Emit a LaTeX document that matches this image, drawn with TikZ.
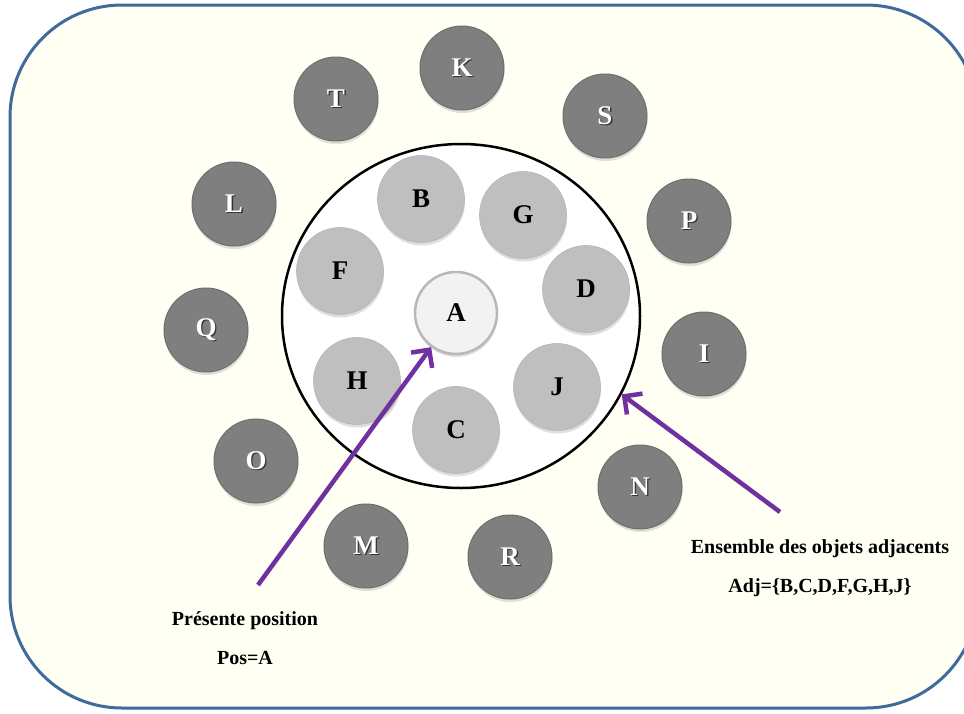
\documentclass[tikz,border=0pt]{standalone}
\usepackage{fontspec}
\setmainfont{Liberation Serif}
\usetikzlibrary{shapes.geometric,arrows.meta,shadows}
\definecolor{frameblue}{HTML}{3F6A9C}
\definecolor{cream}{HTML}{FFFFF4}
\definecolor{darkfill}{HTML}{7F7F7F}
\definecolor{darkedge}{HTML}{6E6E6E}
\definecolor{lightfill}{HTML}{BFBFBF}
\definecolor{afill}{HTML}{F2F2F2}
\definecolor{purp}{HTML}{7030A0}
\newcommand\shadowed[1]{\makebox[0pt][l]{\hspace{1.3pt}\raisebox{-1.3pt}{\textcolor{black!80}{#1}}}#1}
\tikzset{
  ball/.style={circle, inner sep=0pt, font=\fontsize{27}{27}\selectfont\bfseries,
    drop shadow={shadow xshift=0.5pt, shadow yshift=-3pt, opacity=0.25}},
  darkball/.style={ball, minimum size=84pt, fill=darkfill, draw=darkedge, line width=1pt, text=white},
  lightball/.style={ball, minimum size=87pt, fill=lightfill, draw=lightfill!95!black, line width=0.6pt, text=black},
  aball/.style={ball, minimum size=82pt, fill=afill, draw=black!28, line width=2.5pt, text=black},
  ring/.style={ellipse, minimum width=358pt, minimum height=344pt, inner sep=0pt, draw=black, line width=2.5pt, fill=white},
  pointer/.style={draw=purp, line width=4.5pt, -{Straight Barb[length=13pt, width=26pt, line width=4.5pt]}},
  caption/.style={font=\fontsize{20}{20}\selectfont\bfseries, text=black, align=center}
}
\begin{document}
\begin{tikzpicture}[x=1pt, y=-1pt]
\useasboundingbox (0,0) rectangle (964,713);
\clip (0,0) rectangle (964,713);
\fill[white] (0,0) rectangle (964,713);
\draw[frameblue, fill=cream, line width=3pt, rounded corners=112pt] (10,5) rectangle (978,708);

\node[ring] (ring) at (461,316) {};

% outer objects
\node[darkball] (K) at (462,68) {\shadowed{K}};
\node[darkball] (T) at (336,99) {\shadowed{T}};
\node[darkball] (S) at (605,116) {\shadowed{S}};
\node[darkball] (L) at (234,204) {\shadowed{L}};
\node[darkball] (P) at (689,221) {\shadowed{P}};
\node[darkball] (Q) at (206,330) {\shadowed{Q}};
\node[darkball] (I) at (704,354) {\shadowed{I}};
\node[darkball] (O) at (256,461) {\shadowed{O}};
\node[darkball] (N) at (640,487) {\shadowed{N}};
\node[darkball] (M) at (366,546) {\shadowed{M}};
\node[darkball] (R) at (510,557) {\shadowed{R}};

% adjacent objects
\node[lightball] (B) at (421,199) {B};
\node[lightball] (G) at (523,215) {G};
\node[lightball] (F) at (340,271) {F};
\node[lightball] (D) at (586,289) {D};
\node[lightball] (H) at (357,381) {H};
\node[lightball] (J) at (557,387) {J};
\node[lightball] (C) at (456,430) {C};
\node[aball] (A) at (456,313) {A};

% captions
\node[caption] (cap1) at (245,621) {Présente position};
\node[caption] (cap2) at (245,658) {Pos=A};
\node[caption] (cap3) at (820,549) {Ensemble des objets adjacents};
\node[caption] (cap4) at (820,588) {Adj=\{B,C,D,F,G,H,J\}};

% pointers
\coordinate (pa) at (258,585);
\coordinate (pb) at (780,512);
\draw[pointer] (pa) -- (A);
\draw[pointer] (pb) -- (ring.-26);
\end{tikzpicture}
\end{document}
